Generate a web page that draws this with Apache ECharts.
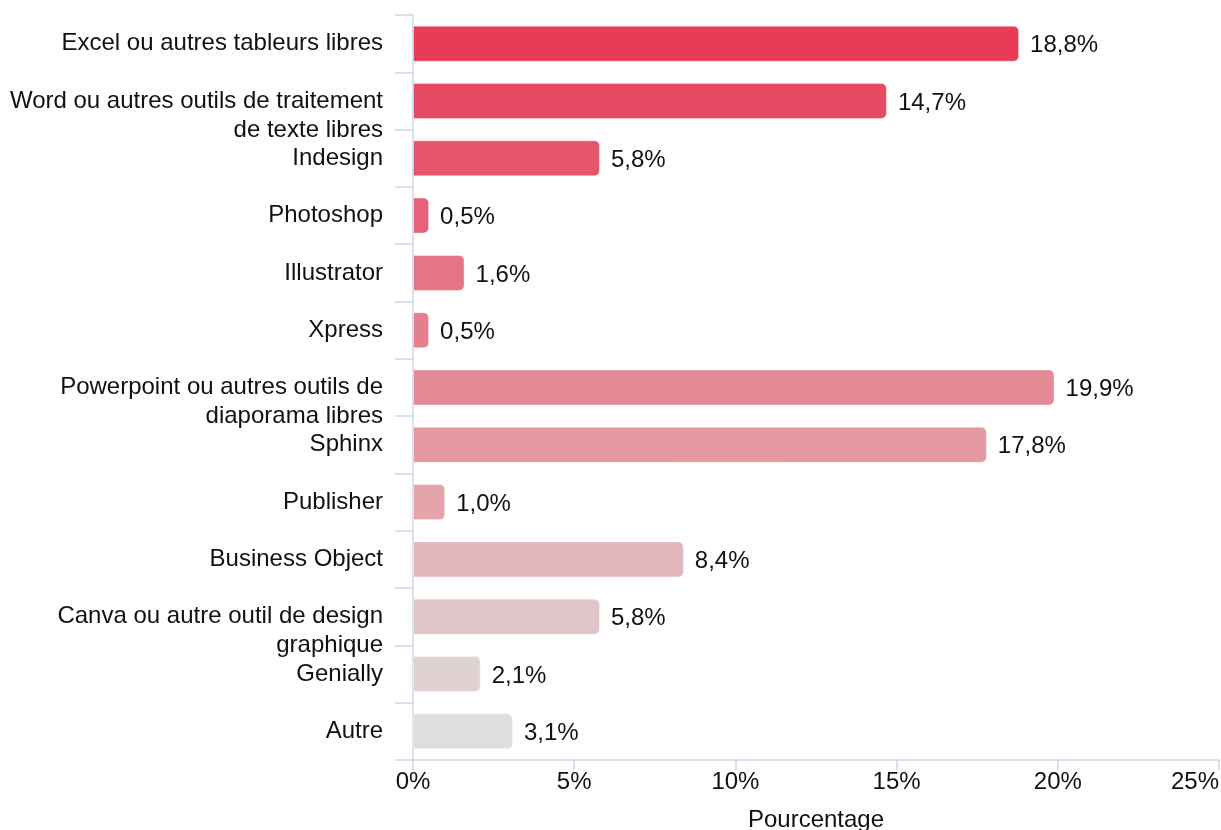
<!DOCTYPE html>
<html>
<head>
<meta charset="utf-8">
<script src="https://cdn.jsdelivr.net/npm/echarts@6/dist/echarts.min.js"></script>
<style>
  html, body { margin: 0; padding: 0; background: #fff; }
  #chart { width: 1221px; height: 830px; }
</style>
</head>
<body>
<div id="chart"></div>
<script>
const categories = [
  'Excel ou autres tableurs libres',
  'Word ou autres outils de traitement de texte libres',
  'Indesign',
  'Photoshop',
  'Illustrator',
  'Xpress',
  'Powerpoint ou autres outils de diaporama libres',
  'Sphinx',
  'Publisher',
  'Business Object',
  'Canva ou autre outil de design graphique',
  'Genially',
  'Autre'
]
const values = [18.8, 14.7, 5.8, 0.5, 1.6, 0.5, 19.9, 17.8, 1.0, 8.4, 5.8, 2.1, 3.1]
const barColors = ['#e83b56', '#e64a63', '#e6566b', '#e6627a', '#e57484', '#e47f8c', '#e48a95', '#e3999f', '#e3a5aa', '#e2b5ba', '#e1c4c7', '#e0d2d3', '#dedede']

const fontFamily = 'Liberation Sans, Arial, sans-serif'
const fontSize = 24
const labelWidth = 378

// découpe des libellés en lignes selon la largeur mesurée
const ctx = document.createElement('canvas').getContext('2d')
ctx.font = fontSize + 'px ' + fontFamily
const formatCategory = (name) => {
  const words = name.split(' ')
  const lines = []
  let line = ''
  words.forEach((w) => {
    const test = line ? line + ' ' + w : w
    if (line && ctx.measureText(test).width > labelWidth) {
      lines.push(line)
      line = w
    } else {
      line = test
    }
  })
  lines.push(line)
  // première ligne centrée sur la catégorie, la suite en dessous
  return lines.length > 1 ? '\n' + lines.join('\n') : name
}

const chart = echarts.init(document.getElementById('chart'))
chart.setOption({
  animation: false,
  textStyle: { fontFamily: fontFamily },
  grid: { left: 413, right: 2, top: 15, bottom: 70, outerBoundsMode: 'none' },
  xAxis: {
    type: 'value',
    min: 0,
    max: 25,
    interval: 5,
    name: 'Pourcentage',
    nameLocation: 'middle',
    nameGap: 48,
    nameTextStyle: { fontSize: fontSize, color: '#111' },
    axisLine: { show: true, lineStyle: { color: '#ccd6eb', width: 1.5 } },
    axisTick: { show: true, length: 10, lineStyle: { color: '#ccd6eb', width: 1.5 } },
    splitLine: { show: false },
    axisLabel: {
      fontSize: fontSize,
      color: '#111',
      margin: 10,
      alignMaxLabel: 'right',
      formatter: (v) => v + '%'
    }
  },
  yAxis: {
    type: 'category',
    inverse: true,
    data: categories,
    axisLine: { show: true, lineStyle: { color: '#ccd6eb', width: 1.5 } },
    axisTick: { show: true, length: 18, lineStyle: { color: '#ccd6eb', width: 1.5 } },
    axisLabel: {
      interval: 0,
      hideOverlap: false,
      fontSize: fontSize,
      color: '#111',
      margin: 30,
      lineHeight: 29,
      padding: [4, 0, 0, 0],
      formatter: formatCategory
    }
  },
  series: [
    {
      type: 'bar',
      barWidth: 36,
      data: values.map((v, i) => ({
        value: v,
        itemStyle: { color: barColors[i] }
      })),
      itemStyle: {
        borderRadius: [0, 5, 5, 0],
        borderColor: 'rgba(255,255,255,0.4)',
        borderWidth: 1
      },
      label: {
        show: true,
        position: 'right',
        distance: 11,
        offset: [0, 2],
        fontSize: fontSize,
        color: '#111',
        formatter: (p) => p.value.toFixed(1).replace('.', ',') + '%'
      }
    }
  ]
})
</script>
</body>
</html>
